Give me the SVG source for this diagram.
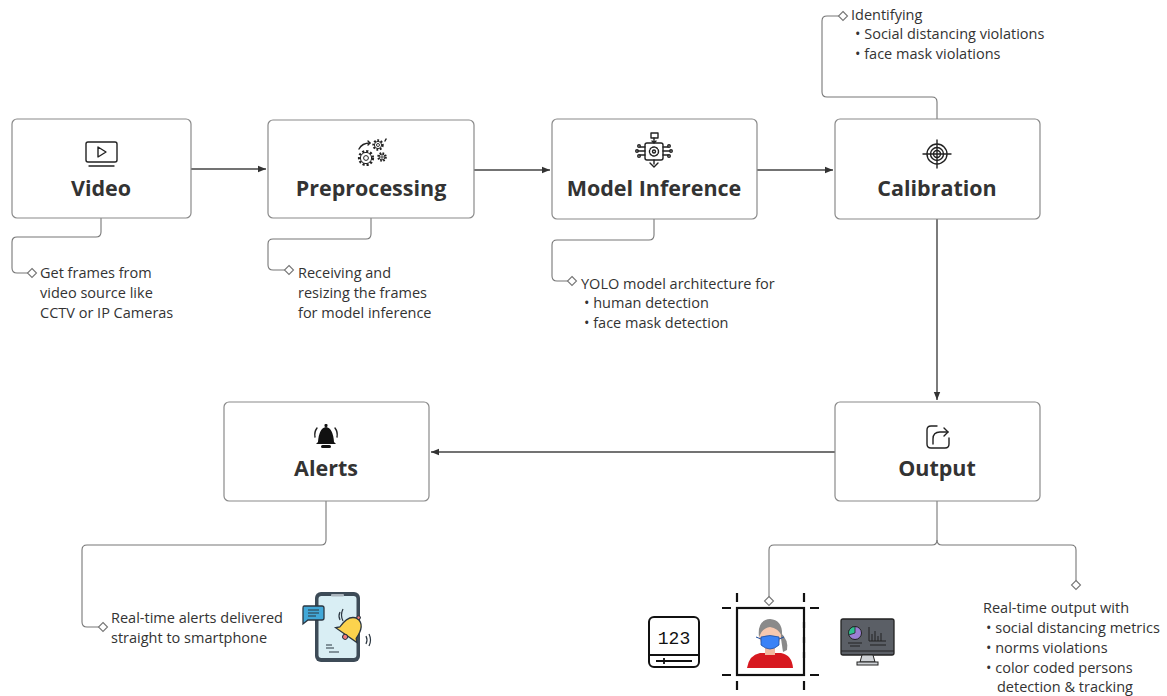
<svg xmlns="http://www.w3.org/2000/svg" width="1167" height="696" viewBox="0 0 1167 696">
  <defs>
    <style>
      .box { fill: #ffffff; stroke: #8a8a8a; stroke-width: 1.2; }
      .title { font-family: "Open Sans", "Liberation Sans", sans-serif; font-weight: 700; font-size: 21.5px; fill: #333333; text-anchor: middle; }
      .note { font-family: "Open Sans", "Liberation Sans", sans-serif; font-size: 14.5px; fill: #333333; }
      .flow { fill: none; stroke: #444444; stroke-width: 1.4; }
      .lead { fill: none; stroke: #777777; stroke-width: 1.1; }
      .dia { fill: #ffffff; stroke: #777777; stroke-width: 1.1; }
      .ico { fill: none; stroke: #222222; stroke-width: 1.4; stroke-linecap: round; stroke-linejoin: round; }
      .teeth { fill: none; stroke: #222222; stroke-linecap: butt; }
    </style>
    <marker id="arrow" viewBox="0 0 10 10" refX="10" refY="5" markerWidth="8" markerHeight="8" orient="auto" markerUnits="userSpaceOnUse">
      <path d="M0,1 L10,5 L0,9 z" fill="#333333"/>
    </marker>
    <path id="diamond" d="M0,-4.5 L4.5,0 L0,4.5 L-4.5,0 z"/>
  </defs>

  <!-- main flow connectors and annotation leaders -->
  <g id="connectors">
    <path class="flow" d="M191,169 H266" marker-end="url(#arrow)"/>
    <path class="flow" d="M474,170 H550" marker-end="url(#arrow)"/>
    <path class="flow" d="M757,170 H833" marker-end="url(#arrow)"/>
    <path class="flow" d="M937,219 V400" marker-end="url(#arrow)"/>
    <path class="flow" d="M835,452 H431" marker-end="url(#arrow)"/>

    <path class="lead" d="M101,218 V232 Q101,237 96,237 H17 Q12,237 12,242 V268 Q12,273 17,273 H28"/>
    <use href="#diamond" x="32" y="273" class="dia"/>

    <path class="lead" d="M371,218 V234 Q371,239 366,239 H273 Q268,239 268,244 V265 Q268,270 273,270 H285"/>
    <use href="#diamond" x="289" y="270" class="dia"/>

    <path class="lead" d="M654,219 V235 Q654,240 649,240 H557 Q552,240 552,245 V276 Q552,281 557,281 H568"/>
    <use href="#diamond" x="572" y="281" class="dia"/>

    <path class="lead" d="M937,119 V102 Q937,97 932,97 H827 Q822,97 822,92 V21 Q822,16 827,16 H839"/>
    <use href="#diamond" x="843" y="16" class="dia"/>

    <path class="lead" d="M326,501 V540 Q326,545 321,545 H87 Q82,545 82,550 V622 Q82,627 87,627 H99"/>
    <use href="#diamond" x="103" y="627" class="dia"/>

    <path class="lead" d="M937,501 V540 Q937,545 932,545 H774 Q769,545 769,550 V597"/>
    <use href="#diamond" x="769" y="601" class="dia"/>
    <path class="lead" d="M937,540 Q937,545 942,545 H1071 Q1076,545 1076,550 V581"/>
    <use href="#diamond" x="1076" y="585" class="dia"/>
  </g>

  <!-- Video -->
  <g id="node-video">
    <rect class="box" x="12" y="119" width="179" height="99" rx="5"/>
    <rect class="ico" x="86" y="142" width="31" height="20" rx="2"/>
    <path class="ico" d="M89,166 H114"/>
    <path class="ico" d="M98,147 L106,152 L98,157 Z" stroke-width="1.1"/>
    <text class="title" x="101" y="196">Video</text>
  </g>

  <!-- Preprocessing -->
  <g id="node-preprocessing">
    <rect class="box" x="268" y="120" width="206" height="98" rx="5"/>
    <!-- three gears: toothed rim drawn as a dashed thick ring -->
    <circle class="teeth" cx="366" cy="158" r="6.8" stroke-width="2.6" stroke-dasharray="2.1 1.9"/>
    <circle cx="366" cy="158" r="5.6" fill="#ffffff" stroke="#222222" stroke-width="1"/>
    <circle cx="366" cy="158" r="2.4" fill="none" stroke="#222222" stroke-width="1"/>
    <circle class="teeth" cx="378" cy="145" r="4.6" stroke-width="2.2" stroke-dasharray="1.8 1.6"/>
    <circle cx="378" cy="145" r="3.6" fill="#ffffff" stroke="#222222" stroke-width="1"/>
    <circle cx="378" cy="145" r="1.5" fill="none" stroke="#222222" stroke-width="0.9"/>
    <circle class="teeth" cx="382" cy="157" r="3.8" stroke-width="2" stroke-dasharray="1.6 1.4"/>
    <circle cx="382" cy="157" r="2.9" fill="#ffffff" stroke="#222222" stroke-width="1"/>
    <circle cx="382" cy="157" r="1.2" fill="none" stroke="#222222" stroke-width="0.9"/>
    <g class="ico" stroke-width="1.1">
      <path d="M359,149 Q362,143 370,143"/>
      <path d="M368,141 L370,143 L368,145"/>
      <path d="M385,141 L386,139"/>
    </g>
    <text class="title" x="371" y="196">Preprocessing</text>
  </g>

  <!-- Model Inference -->
  <g id="node-model">
    <rect class="box" x="552" y="119" width="205" height="100" rx="5"/>
    <g class="ico" stroke-width="1.1">
      <rect x="651" y="133" width="7" height="5"/>
      <path d="M654,138 V143 M652,141 L654,143 L656,141"/>
      <rect x="645" y="143" width="18" height="17" rx="2"/>
      <circle cx="654" cy="151.5" r="4.5" stroke-dasharray="2 1.2"/>
      <circle cx="654" cy="151.5" r="1.5"/>
      <path d="M654,160 V164 M650,163 L654,167 L658,163"/>
      <path d="M645,147 H640 M645,151 H638 M645,155 H640"/>
      <path d="M663,147 H668 M663,151 H670 M663,155 H668"/>
      <circle cx="639" cy="146" r="1.3"/><circle cx="637" cy="151" r="1.3"/><circle cx="639" cy="156" r="1.3"/>
      <circle cx="669" cy="146" r="1.3"/><circle cx="671" cy="151" r="1.3"/><circle cx="669" cy="156" r="1.3"/>
    </g>
    <text class="title" x="654" y="196">Model Inference</text>
  </g>

  <!-- Calibration -->
  <g id="node-calibration">
    <rect class="box" x="835" y="119" width="205" height="100" rx="5"/>
    <g class="ico" stroke-width="1.3">
      <circle cx="937" cy="154" r="10"/>
      <circle cx="937" cy="154" r="6.5"/>
      <circle cx="937" cy="154" r="3.5"/>
      <path d="M937,140 V168 M923,154 H951"/>
    </g>
    <text class="title" x="937" y="196">Calibration</text>
  </g>

  <!-- Output -->
  <g id="node-output">
    <rect class="box" x="835" y="402" width="205" height="99" rx="5"/>
    <g class="ico" stroke-width="1.5">
      <path d="M937,426 H931 Q927,426 927,430 V444 Q927,448 931,448 H945 Q949,448 949,444 V438"/>
      <path d="M933,444 V439 Q933,432 940,432 H948"/>
      <path d="M944,428 L948,432 L944,436"/>
    </g>
    <text class="title" x="937" y="476">Output</text>
  </g>

  <!-- Alerts -->
  <g id="node-alerts">
    <rect class="box" x="224" y="402" width="205" height="99" rx="5"/>
    <g fill="#111111">
      <path d="M318,442 Q319,428 326,427 Q333,428 334,442 L336,444 H316 Z"/>
      <rect x="324.5" y="424" width="3" height="3" rx="1"/>
      <rect x="321" y="445" width="10" height="3" rx="1.5"/>
    </g>
    <path class="ico" stroke-width="1.6" d="M317,428 Q314,432 315,437 M335,428 Q338,432 337,437"/>
    <text class="title" x="326" y="476">Alerts</text>
  </g>

  <!-- annotation texts -->
  <g id="note-video">
    <text class="note" x="40" y="278">Get frames from</text>
    <text class="note" x="40" y="298">video source like</text>
    <text class="note" x="40" y="318">CCTV or IP Cameras</text>
  </g>
  <g id="note-preprocessing">
    <text class="note" x="298" y="278">Receiving and</text>
    <text class="note" x="298" y="298">resizing the frames</text>
    <text class="note" x="298" y="318">for model inference</text>
  </g>
  <g id="note-model">
    <text class="note" x="581" y="289">YOLO model architecture for</text>
    <text class="note" x="584" y="308">• human detection</text>
    <text class="note" x="584" y="328">• face mask detection</text>
  </g>
  <g id="note-calibration">
    <text class="note" x="851" y="20">Identifying</text>
    <text class="note" x="855" y="39">• Social distancing violations</text>
    <text class="note" x="855" y="59">• face mask violations</text>
  </g>
  <g id="note-alerts">
    <text class="note" x="111" y="623">Real-time alerts delivered</text>
    <text class="note" x="111" y="643">straight to smartphone</text>
  </g>
  <g id="note-output">
    <text class="note" x="983" y="613">Real-time output with</text>
    <text class="note" x="986" y="633">• social distancing metrics</text>
    <text class="note" x="986" y="653">• norms violations</text>
    <text class="note" x="986" y="673">• color coded persons</text>
    <text class="note" x="997" y="692">detection &amp; tracking</text>
  </g>

  <!-- smartphone with alert bell -->
  <g id="phone-illustration">
    <rect x="315" y="592" width="45" height="70" rx="6" fill="#3d4b57"/>
    <rect x="318.5" y="596" width="38" height="62" rx="3" fill="#d9eef4"/>
    <rect x="331" y="594" width="13" height="2.5" rx="1" fill="#aab4bc"/>
    <path d="M304,606 H322 Q324,606 324,608 V618 Q324,620 322,620 H308 L303,624 V608 Q303,606 304,606 Z" fill="#42a8d8" stroke="#2b3640" stroke-width="1.3"/>
    <path d="M308,610 H319 M308,613 H319 M308,616 H316" stroke="#2b3640" stroke-width="1.2"/>
    <g transform="rotate(35 352 627)">
      <path d="M342,634 Q342,618 352,617 Q362,618 362,634 L365,637 H339 Z" fill="#fcd34d" stroke="#2b3640" stroke-width="1.3"/>
      <circle cx="352" cy="639" r="2.5" fill="#f17a7a" stroke="#2b3640" stroke-width="1"/>
      <circle cx="352" cy="615.5" r="1.8" fill="#f17a7a" stroke="#2b3640" stroke-width="1"/>
    </g>
    <path d="M340,612 Q338,616 340,620 M343,609 Q340,615 343,621" fill="none" stroke="#2b3640" stroke-width="1.2"/>
    <path d="M366,636 Q368,640 366,644 M369,634 Q372,640 369,646" fill="none" stroke="#2b3640" stroke-width="1.2"/>
    <path d="M326,645 H332 M326,648 H334 M329,652 H339" stroke="#2b3640" stroke-width="1.2"/>
  </g>

  <!-- counter display -->
  <g id="counter-illustration">
    <rect x="649" y="617" width="50" height="50" rx="5" fill="#ffffff" stroke="#111111" stroke-width="2"/>
    <path d="M650,655 H698" stroke="#111111" stroke-width="2"/>
    <path d="M656,661 H692 M664,658 V664" stroke="#111111" stroke-width="1.8"/>
    <text x="674" y="644" font-family="Liberation Mono, DejaVu Sans Mono, monospace" font-size="18" fill="#111111" text-anchor="middle" font-weight="400">123</text>
  </g>

  <!-- masked person in detection frame -->
  <g id="person-illustration">
    <rect x="737" y="608" width="67" height="67" fill="#ffffff" stroke="#111111" stroke-width="2.2"/>
    <path d="M722,608 H731 M810,608 H819 M722,675 H731 M810,675 H819 M737,593 V602 M804,593 V602 M737,681 V690 M804,681 V690 M804,622 V628 M804,637 V643 M804,652 V658" stroke="#111111" stroke-width="2.2"/>
    <path d="M747,668 Q749,655 760,653 H781 Q792,655 793,668 Z" fill="#d71920"/>
    <rect x="765" y="646" width="10" height="9" fill="#f2b9a0"/>
    <path d="M780,632 Q789,640 787,650 L783,652 Z" fill="#8a8a8a"/>
    <ellipse cx="770" cy="635" rx="11" ry="13" fill="#f6c8b0"/>
    <path d="M759,637 Q757,620 770,619 Q783,620 782,636 Q778,628 770,627 Q762,628 759,637 Z" fill="#8a8a8a"/>
    <path d="M761,637 Q770,634 779,637 L779,645 Q770,653 761,645 Z" fill="#3b82f6" stroke="#1f4fa0" stroke-width="0.8"/>
    <path d="M756,637 L761,639 M784,637 L779,639" stroke="#1f4fa0" stroke-width="1"/>
  </g>

  <!-- analytics monitor -->
  <g id="monitor-illustration">
    <rect x="841" y="619" width="53" height="36" rx="2" fill="#5b5f66" stroke="#222222" stroke-width="1.3"/>
    <path d="M841,651 H894" stroke="#222222" stroke-width="1"/>
    <path d="M862,655 L860,662 H875 L873,655 Z" fill="#cfd2d6" stroke="#222222" stroke-width="1"/>
    <rect x="857" y="662" width="21" height="3" fill="#cfd2d6" stroke="#222222" stroke-width="1"/>
    <circle cx="855" cy="633" r="6.5" fill="#9b7fd4" stroke="#222222" stroke-width="1"/>
    <path d="M855,633 L855,626.5 A6.5,6.5 0 0,0 848.8,635 Z" fill="#2fbf8f" stroke="#222222" stroke-width="0.8"/>
    <path d="M848,643 H862 M850,646 H860" stroke="#222222" stroke-width="1"/>
    <path d="M869,627 V641 H886 M872,641 V634 M875,641 V631 M878,641 V636 M881,641 V633 M870,645 H886" fill="none" stroke="#222222" stroke-width="1"/>
  </g>
</svg>
